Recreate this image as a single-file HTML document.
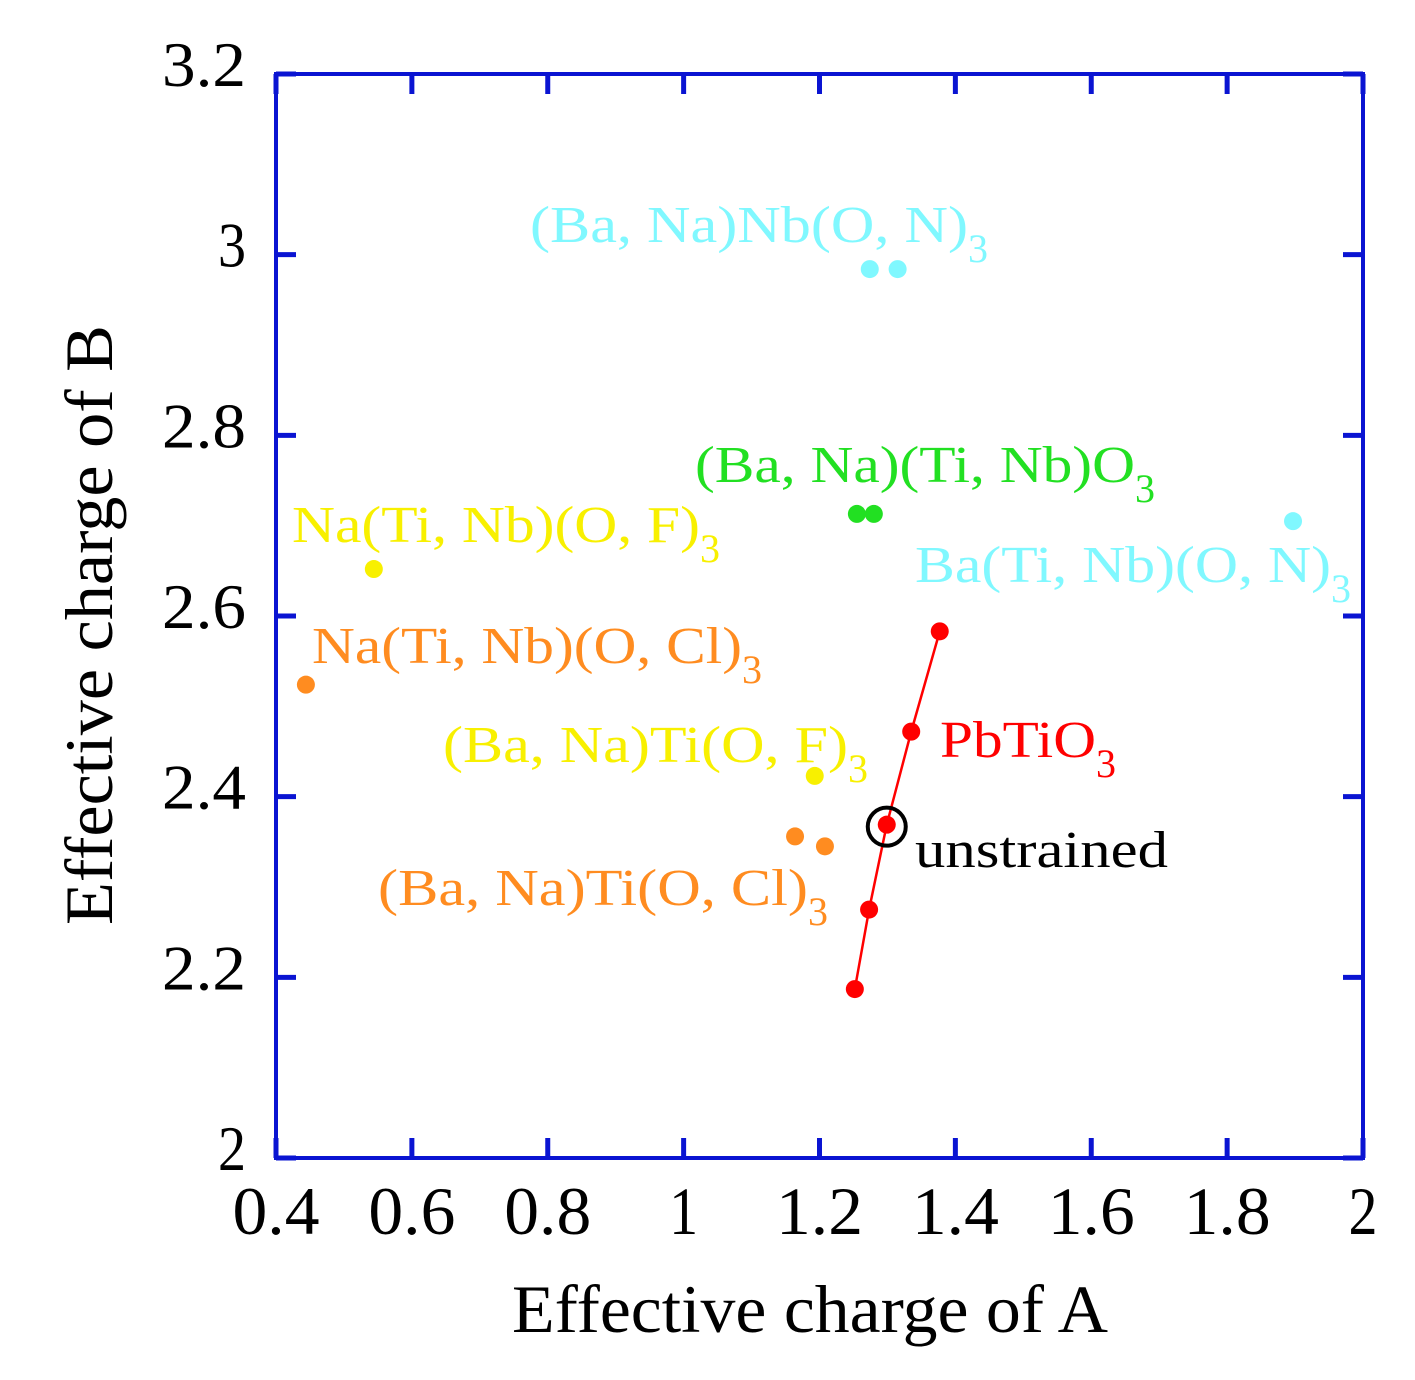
<!DOCTYPE html>
<html><head><meta charset="utf-8"><style>
html,body{margin:0;padding:0;background:#fff;}
svg{display:block;font-family:"Liberation Serif",serif;}
</style></head><body>
<svg id="chart" width="1415" height="1380" viewBox="0 0 1415 1380" xmlns="http://www.w3.org/2000/svg">
<g id="axes"></g>
<g id="marks"></g>
<g id="labels"></g>
</svg>
<script>
const xTicks=[0.4,0.6,0.8,1,1.2,1.4,1.6,1.8,2];
const xTickLabels=["0.4","0.6","0.8","1","1.2","1.4","1.6","1.8","2"];
const yTicks=[2,2.2,2.4,2.6,2.8,3,3.2];
const yTickLabels=["2","2.2","2.4","2.6","2.8","3","3.2"];
const pbtioX=[1.252,1.273,1.299,1.335,1.377];
const pbtioY=[2.187,2.275,2.369,2.472,2.583];
const cyanX=[1.274,1.315,1.897];
const cyanY=[2.984,2.984,2.705];
const greenX=[1.255,1.280];
const greenY=[2.713,2.713];
const yellowX=[0.544,1.193];
const yellowY=[2.652,2.423];
const orangeX=[0.444,1.164,1.208];
const orangeY=[2.524,2.356,2.345];
const unstrainedX=[1.299];
const unstrainedY=[2.369];

const L=276,R=1363,T=74,B=1158;
const X=v=>L+(v-0.4)/1.6*(R-L);
const Y=v=>B-(v-2)/1.2*(B-T);
const NS="http://www.w3.org/2000/svg";
function mk(tag,attrs,parent){const e=document.createElementNS(NS,tag);for(const k in attrs)e.setAttribute(k,attrs[k]);parent.appendChild(e);return e;}
const axes=document.getElementById('axes'),marks=document.getElementById('marks'),labels=document.getElementById('labels');
const blue="#0a14d2";
const frame=mk('rect',{x:L,y:T,width:R-L,height:B-T,fill:'none',stroke:blue,'stroke-width':4},axes);


xTicks.forEach((v,i)=>{
  const t1=mk('line',{x1:X(v),x2:X(v),y1:B,y2:B-20,stroke:blue,'stroke-width':5},axes);
  
  
  const t2=mk('line',{x1:X(v),x2:X(v),y1:T,y2:T+20,stroke:blue,'stroke-width':5},axes);
  
  
  const s=xTickLabels[i];
  const tx=mk('text',{x:X(v),y:1234,'text-anchor':'middle','font-size':68,fill:'#000',textLength:s.length*29,lengthAdjust:'spacingAndGlyphs'},labels);
  tx.textContent=s;
  
  
});
yTicks.forEach((v,i)=>{
  const t1=mk('line',{x1:L,x2:L+20,y1:Y(v),y2:Y(v),stroke:blue,'stroke-width':5},axes);
  
  
  const t2=mk('line',{x1:R,x2:R-20,y1:Y(v),y2:Y(v),stroke:blue,'stroke-width':5},axes);
  
  
  const s=yTickLabels[i];
  const tx=mk('text',{x:246,y:Y(v)+12,'text-anchor':'end','font-size':64,fill:'#000',textLength:s.length*28,lengthAdjust:'spacingAndGlyphs'},labels);
  tx.textContent=s;
  
  
});
// PbTiO3 line
const pl=mk('polyline',{points:pbtioX.map((x,i)=>X(x)+','+Y(pbtioY[i])).join(' '),fill:'none',stroke:'#ff0000','stroke-width':2.5},marks);


function dots(xs,ys,color,name){xs.forEach((x,i)=>{
  const c=mk('circle',{cx:X(x),cy:Y(ys[i]),r:9,fill:color},marks);
  
  
});}
dots(pbtioX,pbtioY,'#ff0000','pbtio3-point');
dots(cyanX,cyanY,'#80f8ff','oxynitride-point');
dots(greenX,greenY,'#22e022','ba-na-ti-nb-o3-point');
dots(yellowX,yellowY,'#f8f000','fluoride-point');
dots(orangeX,orangeY,'#ff8c20','chloride-point');
const uc=mk('circle',{cx:X(unstrainedX[0]),cy:Y(unstrainedY[0])+2,r:19,fill:'none',stroke:'#000','stroke-width':4},marks);


function label(x,y,main,sub,w,color,name){
  const t=mk('text',{x:x,y:y,'font-size':52,fill:color,textLength:w,lengthAdjust:'spacingAndGlyphs'},labels);
  t.textContent=main;
  
  
  if(sub){const s=mk('text',{x:x+w,y:y+20,'font-size':40,fill:color},labels);s.textContent=sub;
    
    }
}
label(530,242,'(Ba, Na)Nb(O, N)','3',438,'#80f8ff','label-ba-na-nb-o-n3');
label(695,482,'(Ba, Na)(Ti, Nb)O','3',440,'#22e022','label-ba-na-ti-nb-o3');
label(292,542,'Na(Ti, Nb)(O, F)','3',408,'#f8f000','label-na-ti-nb-o-f3');
label(915,582,'Ba(Ti, Nb)(O, N)','3',416,'#80f8ff','label-ba-ti-nb-o-n3');
label(312,663,'Na(Ti, Nb)(O, Cl)','3',430,'#ff8c20','label-na-ti-nb-o-cl3');
label(940,757,'PbTiO','3',156,'#ff0000','label-pbtio3');
label(443,762,'(Ba, Na)Ti(O, F)','3',405,'#f8f000','label-ba-na-ti-o-f3');
label(915,867,'unstrained','',253,'#000','label-unstrained');
label(378,905,'(Ba, Na)Ti(O, Cl)','3',430,'#ff8c20','label-ba-na-ti-o-cl3');
const xt=mk('text',{x:512,y:1332,'font-size':68,fill:'#000',textLength:596,lengthAdjust:'spacingAndGlyphs'},labels);
xt.textContent='Effective charge of A';


const yt=mk('text',{x:0,y:0,'font-size':68,fill:'#000',textLength:600,lengthAdjust:'spacingAndGlyphs',transform:'translate(112,925) rotate(-90)'},labels);
yt.textContent='Effective charge of B';


</script>
</body></html>
